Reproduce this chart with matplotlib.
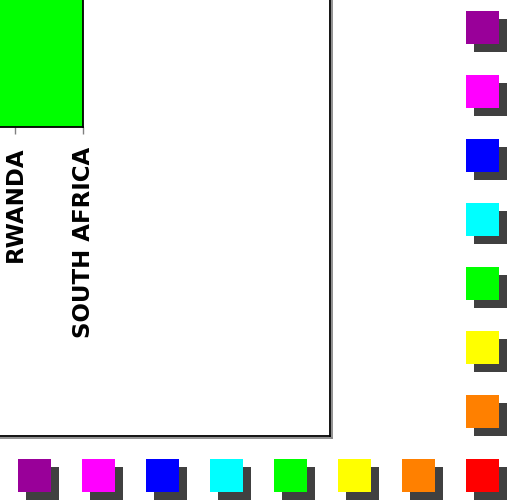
import matplotlib
matplotlib.use('Agg')
from matplotlib import pyplot as plt
from matplotlib.patches import Rectangle
import matplotlib.patheffects as pe

W, H, DPI = 509, 503, 100

# data
countries = ['RWANDA', 'SOUTH AFRICA']
bar_color = '#00ff00'
row_colors = ['#990099', '#ff00ff', '#0000ff', '#00ffff', '#00ff00', '#ffff00', '#ff8000', '#ff0000']
col_colors = ['#990099', '#ff00ff', '#0000ff', '#00ffff', '#00ff00', '#ffff00', '#ff8000']

fig = plt.figure(figsize=(W / DPI, H / DPI), dpi=DPI)

def px_axes(left, bottom_from_top, right, top_from_top):
    # positions in pixels (y measured from top)
    return fig.add_axes([left / W, 1 - bottom_from_top / H,
                         (right - left) / W, (bottom_from_top - top_from_top) / H])

# outer frame (extends past the left/top edge)
outer = px_axes(-200, 436, 330, -200)
outer.set_xticks([])
outer.set_yticks([])
for s in outer.spines.values():
    s.set_linewidth(1.3)
    s.set_color('black')
    s.set_path_effects([pe.SimpleLineShadow(offset=(1.2, -1.2), shadow_color='#888888', alpha=1), pe.Normal()])

# inner plot with the green bar
left_px = -200
inner = px_axes(left_px, 127, 83, -200)
inner.set_facecolor('white')
spacing = 68
x = list(range(len(countries)))
xmax = x[-1]
xmin = xmax - (83 - left_px) / spacing
inner.bar([xmin], [1], width=xmax - xmin, align='edge', color=bar_color)
inner.set_xlim(xmin, xmax)
inner.set_ylim(0, 1)
inner.set_xticks(x)
inner.set_xticklabels(countries, rotation=90)
for lab in inner.get_xticklabels():
    lab.set_fontfamily('DejaVu Sans')
    lab.set_fontweight('bold')
    lab.set_fontsize(16.5)
inner.tick_params(axis='x', length=5, color='#808080', width=1, pad=9)
inner.set_yticks([])
inner.spines['left'].set_visible(False)
inner.spines['top'].set_visible(False)
for s in ['right', 'bottom']:
    inner.spines[s].set_linewidth(1.3)

# decorative squares with shadows
deco = fig.add_axes([0, 0, 1, 1])
deco.set_xlim(-34.5 / 64, (W - 34.5) / 64)
deco.set_ylim((H - 27.5) / 64, -27.5 / 64)
deco.axis('off')
side = 33 / 64
off = 8 / 64

def square(cx, cy, color):
    deco.add_patch(Rectangle((cx - side / 2 + off, cy - side / 2 + off), side, side,
                             color='#404040', lw=0))
    deco.add_patch(Rectangle((cx - side / 2, cy - side / 2), side, side, color=color, lw=0))

for i, c in enumerate(row_colors):
    square(i, 7, c)
for j, c in enumerate(col_colors):
    square(7, j, c)

plt.savefig('out.png', dpi=DPI)
